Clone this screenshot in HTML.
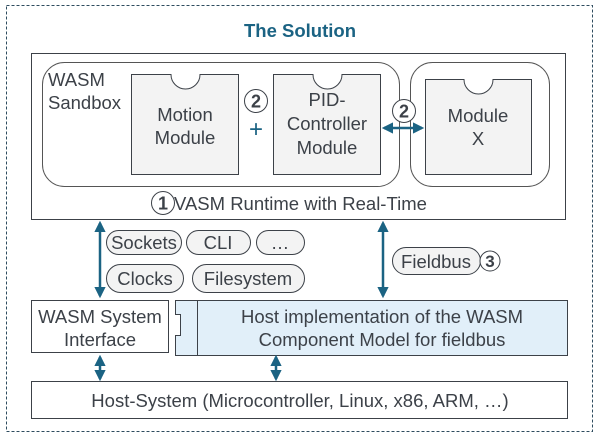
<!DOCTYPE html>
<html><head><style>body{margin:0;background:#fff}text{font-family:"Liberation Sans",sans-serif;fill:#3c4148}</style></head><body>
<svg width="604" height="437" viewBox="0 0 604 437" xmlns="http://www.w3.org/2000/svg">
<defs>
<marker id="a" viewBox="0 0 10 10" refX="8" refY="5" markerWidth="4.5" markerHeight="4.5" orient="auto-start-reverse"><path d="M0,0L10,5L0,10z" fill="#1b6383"/></marker>
</defs>
<rect x="6.5" y="5.5" width="586" height="426" fill="none" stroke="#2d4b5e" stroke-dasharray="3,2"/>
<text x="300" y="37" text-anchor="middle" font-size="18.5" font-weight="bold" style="fill:#1b6383">The Solution</text>
<rect x="31.5" y="53.5" width="534" height="166" fill="#fff" stroke="#3c4148"/>
<rect x="42.5" y="62.5" width="357" height="124" rx="22" fill="#fff" stroke="#555"/>
<rect x="410.5" y="62.5" width="139" height="124" rx="22" fill="#fff" stroke="#555"/>
<g fill="#f3f3f3" stroke="#3c4148">
<path d="M131.5,74.5H171a14.5,14.5 0 0 0 29,0H238.5V174.5H131.5Z"/>
<path d="M273.5,74.5H313a14.5,14.5 0 0 0 29,0H380.5V174.5H273.5Z"/>
<path d="M425.5,79.5H464a14.5,14.5 0 0 0 29,0H531.5V174.5H425.5Z"/>
</g>
<g font-size="18.5">
<text x="48" y="86">WASM</text>
<text x="48" y="109">Sandbox</text>
<text x="185" y="121" text-anchor="middle">Motion</text>
<text x="185" y="144" text-anchor="middle">Module</text>
<text x="327" y="106" text-anchor="middle">PID-</text>
<text x="327" y="130" text-anchor="middle">Controller</text>
<text x="327" y="154" text-anchor="middle">Module</text>
<text x="478" y="122" text-anchor="middle">Module</text>
<text x="478" y="145" text-anchor="middle">X</text>
</g>
<circle cx="256" cy="101" r="11.5" fill="#fff" stroke="#3c4148"/>
<text x="256" y="107.5" font-size="18" font-weight="bold" text-anchor="middle">2</text>
<text x="256" y="137" font-size="24" text-anchor="middle" style="fill:#1b6383">+</text>
<line x1="384" y1="128" x2="422" y2="128" stroke="#1b6383" stroke-width="2.5" marker-start="url(#a)" marker-end="url(#a)"/>
<circle cx="404" cy="111" r="11.5" fill="#fff" stroke="#3c4148"/>
<text x="404" y="117.5" font-size="18" font-weight="bold" text-anchor="middle">2</text>
<text x="174" y="210" font-size="18.5">VASM Runtime with Real-Time</text>
<circle cx="163" cy="203" r="11.5" fill="#fff" stroke="#3c4148"/>
<text x="163" y="209.5" font-size="18" font-weight="bold" text-anchor="middle">1</text>
<line x1="100" y1="223" x2="100" y2="296" stroke="#1b6383" stroke-width="2.5" marker-start="url(#a)" marker-end="url(#a)"/>
<line x1="383" y1="223" x2="383" y2="296" stroke="#1b6383" stroke-width="2.5" marker-start="url(#a)" marker-end="url(#a)"/>
<g fill="#f3f3f3" stroke="#3c4148">
<rect x="106.5" y="230.5" width="75" height="24" rx="12"/>
<rect x="186.5" y="230.5" width="64" height="24" rx="12"/>
<rect x="256.5" y="230.5" width="48" height="24" rx="12"/>
<rect x="106.5" y="264.5" width="77" height="28" rx="14"/>
<rect x="192.5" y="264.5" width="112" height="28" rx="14"/>
<rect x="392.5" y="247.5" width="88" height="27" rx="13.5"/>
</g>
<g font-size="18.5" text-anchor="middle">
<text x="144" y="249">Sockets</text><text x="218" y="249">CLI</text><text x="280" y="249">…</text>
<text x="145" y="285">Clocks</text><text x="248" y="285">Filesystem</text>
<text x="436" y="268">Fieldbus</text>
</g>
<circle cx="490" cy="261" r="10" fill="#fff" stroke="#3c4148"/>
<text x="490" y="267" font-size="17" font-weight="bold" text-anchor="middle">3</text>
<rect x="31.5" y="300.5" width="137" height="52" fill="#fff" stroke="#3c4148"/>
<text x="100" y="323" font-size="18.5" text-anchor="middle">WASM System</text>
<text x="100" y="346" font-size="18.5" text-anchor="middle">Interface</text>
<path d="M175.5,300.5H567.5V355.5H175.5V335.5H180.5V314.5H175.5Z" fill="#e1eff9" stroke="#3c4148"/>
<line x1="197.5" y1="300.5" x2="197.5" y2="355.5" stroke="#3c4148"/>
<text x="382" y="323" font-size="18.5" text-anchor="middle">Host implementation of the WASM</text>
<text x="382" y="346" font-size="18.5" text-anchor="middle">Component Model for fieldbus</text>
<line x1="100" y1="357" x2="100" y2="379" stroke="#1b6383" stroke-width="2.5" marker-start="url(#a)" marker-end="url(#a)"/>
<line x1="276" y1="357" x2="276" y2="379" stroke="#1b6383" stroke-width="2.5" marker-start="url(#a)" marker-end="url(#a)"/>
<rect x="31.5" y="381.5" width="536" height="37" fill="#fff" stroke="#3c4148"/>
<text x="300" y="407" font-size="18.5" text-anchor="middle">Host-System (Microcontroller, Linux, x86, ARM, …)</text>
</svg>
</body></html>
